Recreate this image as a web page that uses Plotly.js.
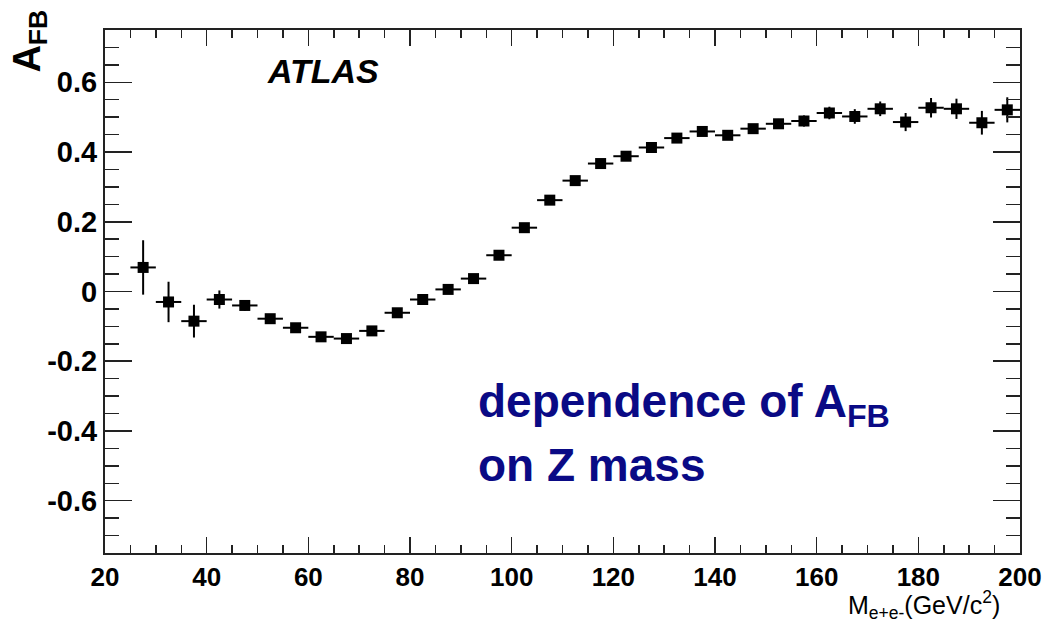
<!DOCTYPE html>
<html>
<head>
<meta charset="utf-8">
<script src="https://cdn.plot.ly/plotly-3.0.1.min.js"></script>
<style>
html,body{margin:0;padding:0;background:#fff;}
#chart{width:1051px;height:624px;}
</style>
</head>
<body>
<div id="chart"></div>
<script>
// Bin centres of M_ee (GeV/c^2)
const mass = [27.5, 32.5, 37.5, 42.5, 47.5, 52.5, 57.5, 62.5, 67.5, 72.5,
              77.5, 82.5, 87.5, 92.5, 97.5, 102.5, 107.5, 112.5, 117.5, 122.5,
              127.5, 132.5, 137.5, 142.5, 147.5, 152.5, 157.5, 162.5, 167.5, 172.5,
              177.5, 182.5, 187.5, 192.5, 197.5];
// A_FB values
const afb = [0.069, -0.030, -0.085, -0.023, -0.040, -0.078, -0.104, -0.130, -0.135, -0.113,
             -0.061, -0.023, 0.006, 0.037, 0.104, 0.183, 0.262, 0.318, 0.367, 0.388,
             0.413, 0.440, 0.459, 0.448, 0.467, 0.481, 0.489, 0.512, 0.502, 0.524,
             0.486, 0.527, 0.524, 0.484, 0.521];
// statistical errors on A_FB
const afbErr = [0.078, 0.058, 0.047, 0.026, 0.015, 0.012, 0.010, 0.010, 0.008, 0.008,
                0.008, 0.007, 0.007, 0.007, 0.007, 0.007, 0.007, 0.007, 0.007, 0.008,
                0.008, 0.010, 0.011, 0.012, 0.013, 0.014, 0.016, 0.018, 0.021, 0.021,
                0.026, 0.028, 0.029, 0.034, 0.036];
// half bin width
const halfBin = 2.5;

const yTickVals = [-0.6, -0.4, -0.2, 0, 0.2, 0.4, 0.6];
const yTickText = ['-0.6', '-0.4', '-0.2', '0', '0.2', '0.4', '0.6'];
const xTickVals = [20, 40, 60, 80, 100, 120, 140, 160, 180, 200];
const xTickText = ['20', '40', '60', '80', '100', '120', '140', '160', '180', '200'];

const FONT = 'Liberation Sans, Arial, Helvetica, sans-serif';

const trace = {
  x: mass,
  y: afb,
  type: 'scatter',
  mode: 'markers',
  marker: {symbol: 'square', size: 11, color: '#000'},
  error_y: {type: 'data', array: afbErr, visible: true, thickness: 2, width: 0, color: '#000'},
  error_x: {type: 'constant', value: halfBin, visible: true, thickness: 2, width: 0, color: '#000'},
  hoverinfo: 'x+y'
};

const axisCommon = {
  showgrid: false,
  zeroline: false,
  showline: true,
  linecolor: '#222',
  linewidth: 2,
  mirror: 'allticks',
  ticks: 'inside',
  tickcolor: '#222',
  tickwidth: 1.5
};

const layout = {
  width: 1051,
  height: 624,
  margin: {l: 105, r: 31, t: 30, b: 71},
  paper_bgcolor: '#fff',
  plot_bgcolor: '#fff',
  showlegend: false,
  xaxis: Object.assign({}, axisCommon, {
    range: [20, 200],
    tickmode: 'array',
    tickvals: xTickVals,
    ticktext: xTickText,
    ticklen: 16,
    tickfont: {family: FONT, size: 26, color: '#000', weight: 'bold'},
    minor: {dtick: 5, tick0: 20, ticklen: 8, ticks: 'inside', tickcolor: '#222', tickwidth: 1.5}
  }),
  yaxis: Object.assign({}, axisCommon, {
    range: [-0.75, 0.75],
    tickmode: 'array',
    tickvals: yTickVals,
    ticktext: yTickText,
    ticklen: 27,
    tickfont: {family: FONT, size: 29, color: '#000', weight: 'bold'},
    minor: {dtick: 0.05, tick0: 0, ticklen: 14, ticks: 'inside', tickcolor: '#222', tickwidth: 1.5}
  }),
  annotations: [
    {
      text: '<i>ATLAS</i>',
      xref: 'paper', yref: 'paper', x: 0.175, y: 0.9216,
      xanchor: 'left', yanchor: 'middle', showarrow: false,
      font: {family: FONT, size: 34, color: '#000', weight: 'bold'}
    },
    {
      text: 'dependence of A<sub>FB</sub>',
      xref: 'paper', yref: 'paper', x: 0.4055, y: 0.283,
      xanchor: 'left', yanchor: 'middle', showarrow: false,
      font: {family: FONT, size: 46, color: '#0a0a85', weight: 'bold'}
    },
    {
      text: 'on Z mass',
      xref: 'paper', yref: 'paper', x: 0.4055, y: 0.169,
      xanchor: 'left', yanchor: 'middle', showarrow: false,
      font: {family: FONT, size: 46, color: '#0a0a85', weight: 'bold'}
    },
    {
      text: 'M<sub>e+e-</sub>(GeV/c<sup>2</sup>)',
      xref: 'paper', yref: 'paper', x: 0.98, y: -0.1,
      xanchor: 'right', yanchor: 'middle', showarrow: false,
      font: {family: FONT, size: 25, color: '#000'}
    },
    {
      text: 'A<sub>FB</sub>',
      xref: 'paper', yref: 'paper', x: -0.083, y: 1.042,
      xanchor: 'center', yanchor: 'top', showarrow: false, textangle: -90,
      font: {family: FONT, size: 38, color: '#000', weight: 'bold'}
    }
  ]
};

Plotly.newPlot('chart', [trace], layout, {displayModeBar: false, staticPlot: true});
</script>
</body>
</html>
